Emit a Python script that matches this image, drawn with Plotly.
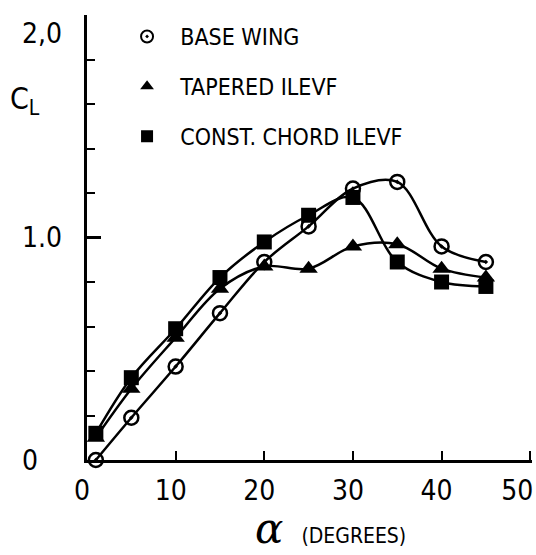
import plotly.graph_objects as go

alpha = [1, 5, 10, 15, 20, 25, 30, 35, 40, 45]
cl_base = [0.0, 0.19, 0.42, 0.66, 0.89, 1.05, 1.22, 1.25, 0.96, 0.89]
cl_tapered = [0.10, 0.32, 0.55, 0.77, 0.87, 0.86, 0.96, 0.97, 0.86, 0.82]
cl_const = [0.12, 0.37, 0.59, 0.82, 0.98, 1.10, 1.18, 0.89, 0.80, 0.78]

names = ["BASE WING", "TAPERED ILEVF", "CONST. CHORD ILEVF"]
x_ticks = [0, 10, 20, 30, 40, 50]
x_ticktext = ["0", "10", "20", "30", "40", "50"]
y_labels = [(0, "0"), (1.0, "1.0"), (2.0, "2,0")]

FONT = "DejaVu Sans Condensed, Liberation Sans Narrow, DejaVu Sans, sans-serif"


def cond(t):
    return f"<span style='font-family:DejaVu Sans Condensed;font-stretch:condensed'>{t}</span>"


fig = go.Figure()

series = [
    (cl_base, dict(symbol="circle-open-dot", size=14, color="black", line=dict(width=2.5, color="black"))),
    (cl_tapered, dict(symbol="triangle-up", size=16, color="black")),
    (cl_const, dict(symbol="square", size=15, color="black")),
]

for i, (ys, mk) in enumerate(series):
    fig.add_trace(go.Scatter(
        x=alpha, y=ys, mode="lines+markers",
        line=dict(color="black", width=2.5, shape="spline", smoothing=1.0),
        marker=mk, showlegend=False, cliponaxis=False))
    fig.add_trace(go.Scatter(
        x=[None], y=[None], mode="markers", marker=mk,
        name="\u00a0\u00a0" + cond(names[i]),
        legendgroup=f"g{i}", showlegend=True))

x_labels = [cond(t) for t in x_ticktext]
x_labels[-1] = x_labels[-1] + "\u00a0\u00a0"

fig.update_layout(
    width=536, height=555,
    margin=dict(l=87, r=4, t=15, b=95, autoexpand=False),
    paper_bgcolor="white", plot_bgcolor="white",
    font=dict(family=FONT, color="black", size=26),
    legend=dict(x=0.09, y=1.0, xanchor="left", yanchor="top",
                bgcolor="rgba(0,0,0,0)", font=dict(size=23, family=FONT),
                tracegroupgap=17, itemsizing="constant"),
    xaxis=dict(range=[0, 50.2], tickvals=x_ticks, ticktext=x_labels,
               showline=True, linecolor="black", linewidth=2.5,
               ticks="inside", ticklen=9, tickwidth=2, tickcolor="black",
               showgrid=False, zeroline=False, ticklabelstandoff=4,
               ticklabelshift=-5, ticklabeloverflow="allow", automargin=False,
               tickfont=dict(size=28, family=FONT)),
    yaxis=dict(range=[0, 2.0], tickvals=[0, 1.0, 2.0], automargin=False,
               showline=True, linecolor="black", linewidth=2.5,
               ticks="inside", ticklen=14, tickwidth=2.5, tickcolor="black",
               showticklabels=False, showgrid=False, zeroline=False,
               minor=dict(dtick=0.2, ticks="inside", ticklen=8, tickwidth=2,
                          tickcolor="black", showgrid=False)),
)

for yv, txt in y_labels:
    fig.add_annotation(x=-0.15, xref="paper", xanchor="left", y=yv, yref="y",
                       yanchor="top" if yv == 2.0 else "middle",
                       text=cond(txt), showarrow=False,
                       font=dict(size=28, family=FONT))

fig.add_annotation(x=-0.178, xref="paper", xanchor="left", y=1.615, yref="y",
                   yanchor="middle", text=cond("C<sub>L</sub>"), showarrow=False,
                   font=dict(size=30, family=FONT))

fig.add_annotation(x=27.5, xref="x", xanchor="center", y=0, yref="paper",
                   yanchor="bottom", yshift=-95,
                   text="<span style='font-size:42px;font-family:DejaVu Serif'><i>α</i></span>   " + cond("(DEGREES)"),
                   showarrow=False, font=dict(size=21, family=FONT))

fig.write_html("out.html")
